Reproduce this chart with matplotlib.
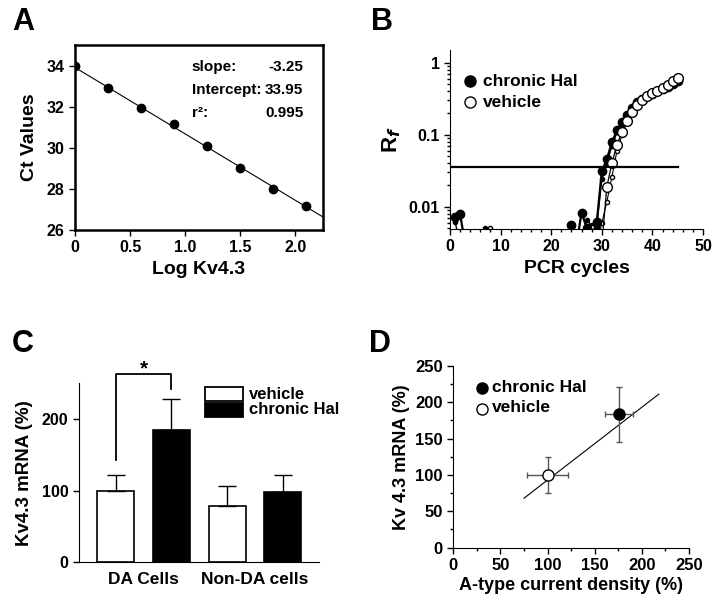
import numpy as np
import matplotlib
matplotlib.use("Agg")
import matplotlib.pyplot as plt
from matplotlib.patches import Rectangle
from matplotlib.ticker import MultipleLocator, NullFormatter

plt.rcParams['font.family'] = ['Liberation Sans', 'DejaVu Sans']
plt.rcParams['font.weight'] = 'bold'
plt.rcParams['axes.labelweight'] = 'bold'
plt.rcParams['mathtext.default'] = 'regular'

# A: standard curve
log_kv = [0, 0.3, 0.6, 0.9, 1.2, 1.5, 1.8, 2.1]
ct_vals = [34.0, 32.95, 31.95, 31.2, 30.1, 29.05, 28.0, 27.15]
slope, intercept, r2 = -3.25, 33.95, 0.995

# B: amplification curves (values below 0.005 are off-scale)
cycles = list(range(1, 46))
hal_big = [0.0072, 0.0079, 0.003, 0.003, 0.003, 0.003, 0.003, 0.003, 0.003, 0.003,
           0.003, 0.003, 0.003, 0.003, 0.003, 0.003, 0.003, 0.003, 0.003, 0.003,
           0.003, 0.003, 0.003, 0.0055, 0.003, 0.0083, 0.0051, 0.003, 0.0061, 0.031,
           0.046, 0.078, 0.115, 0.15, 0.19, 0.235, 0.285, 0.31, 0.34, 0.37,
           0.40, 0.43, 0.46, 0.50, 0.555]
hal_small = [0.0062, 0.003, 0.003, 0.003, 0.003, 0.003, 0.0050, 0.003, 0.003, 0.003,
             0.003, 0.003, 0.003, 0.003, 0.003, 0.003, 0.003, 0.003, 0.003, 0.003,
             0.003, 0.003, 0.003, 0.003, 0.003, 0.003, 0.0065, 0.0055, 0.0053, 0.024,
             0.040, 0.070, 0.108, 0.145, 0.185, 0.23, 0.275, 0.305, 0.335, 0.365,
             0.395, 0.425, 0.455, 0.495, 0.55]
veh_big = [0.003, 0.003, 0.003, 0.003, 0.003, 0.003, 0.003, 0.003, 0.003, 0.003,
           0.003, 0.003, 0.003, 0.003, 0.003, 0.003, 0.003, 0.003, 0.003, 0.003,
           0.003, 0.003, 0.003, 0.003, 0.003, 0.003, 0.003, 0.003, 0.003, 0.003,
           0.019, 0.040, 0.073, 0.108, 0.155, 0.205, 0.255, 0.305, 0.34, 0.375,
           0.41, 0.45, 0.49, 0.55, 0.62]
veh_small = [0.003, 0.003, 0.003, 0.003, 0.003, 0.003, 0.003, 0.0050, 0.003, 0.003,
             0.003, 0.003, 0.003, 0.003, 0.003, 0.003, 0.003, 0.003, 0.003, 0.003,
             0.003, 0.003, 0.003, 0.003, 0.003, 0.003, 0.003, 0.0052, 0.003, 0.0059,
             0.0118, 0.026, 0.060, 0.10, 0.15, 0.20, 0.25, 0.30, 0.335, 0.37,
             0.405, 0.445, 0.485, 0.545, 0.61]
threshold = 0.036

# C: bar chart
groups = ['DA Cells', 'Non-DA cells']
veh_mean = [100, 79]
veh_err = [22, 27]
hal_mean = [185, 98]
hal_err = [43, 24]

# D: correlation
d_x = [100, 176]
d_y = [100, 183]
d_xerr = [22, 15]
d_yerr = [25, 38]
fit_x = [75, 218]
fit_y = [68, 211]

fig = plt.figure(figsize=(7.2, 6.01), dpi=100)

def style_ticks(ax, size):
    ax.tick_params(axis='both', which='both', direction='out', width=1, labelsize=size)
    for lab in ax.get_xticklabels() + ax.get_yticklabels():
        lab.set_fontweight('bold')

# ---- A
axA = fig.add_axes([0.1042, 0.6173, 0.3444, 0.3078])
axA.plot(log_kv, ct_vals, 'o', color='black', ms=6)
xx = np.array([0, 2.25])
axA.plot(xx, intercept + slope * xx, color='black', lw=0.8)
axA.set_xlim(0, 2.25)
axA.set_ylim(26, 35.05)
axA.set_xticks([0, 0.5, 1.0, 1.5, 2.0])
axA.set_xticklabels(['0', '0.5', '1.0', '1.5', '2.0'])
axA.set_yticks([26, 28, 30, 32, 34])
for s in axA.spines.values():
    s.set_linewidth(1.8)
axA.tick_params(length=4)
style_ticks(axA, 11.5)
axA.set_xlabel('Log Kv4.3', fontsize=14, labelpad=4)
axA.set_ylabel('Ct Values', fontsize=14, labelpad=6)
axA.text(0.47, 0.86, 'slope:', transform=axA.transAxes, fontsize=11, fontweight='bold')
axA.text(0.47, 0.735, 'Intercept:', transform=axA.transAxes, fontsize=11, fontweight='bold')
axA.text(0.47, 0.61, 'r\u00b2:', transform=axA.transAxes, fontsize=11, fontweight='bold')
axA.text(0.92, 0.86, f'{slope:.2f}', transform=axA.transAxes, fontsize=11, fontweight='bold', ha='right')
axA.text(0.92, 0.735, f'{intercept:.2f}', transform=axA.transAxes, fontsize=11, fontweight='bold', ha='right')
axA.text(0.92, 0.61, f'{r2:.3f}', transform=axA.transAxes, fontsize=11, fontweight='bold', ha='right')

# ---- B
axB = fig.add_axes([0.625, 0.619, 0.3514, 0.2978])
axB.plot(cycles, hal_small, '-o', color='black', lw=1.0, ms=3)
axB.plot(cycles, veh_small, '-o', color='black', mfc='white', lw=0.8, ms=3)
axB.plot(cycles, hal_big, '-o', color='black', lw=1.6, ms=6)
axB.plot(cycles, veh_big, '-o', color='black', mfc='white', lw=0.9, ms=7)
axB.plot([0, 45], [threshold, threshold], color='black', lw=1.6)
axB.set_yscale('log')
axB.set_xlim(0, 50)
axB.set_ylim(0.0049, 1.5)
axB.set_yticks([0.01, 0.1, 1])
axB.set_yticklabels(['0.01', '0.1', '1'])
axB.yaxis.set_minor_formatter(NullFormatter())
axB.xaxis.set_major_locator(MultipleLocator(10))
axB.xaxis.set_minor_locator(MultipleLocator(2))
axB.spines['top'].set_visible(False)
axB.spines['right'].set_visible(False)
axB.tick_params(which='major', length=4)
axB.tick_params(which='minor', length=2.5)
style_ticks(axB, 11.5)
axB.set_xlabel('PCR cycles', fontsize=14, labelpad=4)
axB.set_ylabel('R$_\\mathit{f}$', fontsize=16, labelpad=4)
axB.plot([4], [0.55], 'o', color='black', ms=8)
axB.plot([4], [0.28], 'o', color='black', mfc='white', ms=8)
axB.text(6.5, 0.55, 'chronic Hal', fontsize=12.5, fontweight='bold', va='center')
axB.text(6.5, 0.28, 'vehicle', fontsize=12.5, fontweight='bold', va='center')

# ---- C
axC = fig.add_axes([0.1097, 0.0644, 0.3333, 0.2983])
pos_veh = [1, 3]
pos_hal = [2, 4]
axC.bar(pos_veh, veh_mean, width=0.667, color='white', edgecolor='black', lw=1.2,
        yerr=[[0, 0], veh_err], capsize=6.5, error_kw=dict(elinewidth=1, capthick=1))
axC.bar(pos_hal, hal_mean, width=0.667, color='black', edgecolor='black', lw=1.2,
        yerr=[[0, 0], hal_err], capsize=6.5, error_kw=dict(elinewidth=1, capthick=1, ecolor='black'))
axC.set_xlim(0.34, 4.65)
axC.set_ylim(0, 250)
axC.set_yticks([0, 100, 200])
axC.set_xticks([1.5, 3.5])
axC.set_xticklabels(groups)
axC.tick_params(axis='x', length=0, pad=7)
axC.tick_params(axis='y', length=4)
axC.spines['top'].set_visible(False)
axC.spines['right'].set_visible(False)
style_ticks(axC, 11.5)
for lab in axC.get_xticklabels():
    lab.set_fontsize(12.5)
axC.set_ylabel('Kv4.3 mRNA (%)', fontsize=13.5, labelpad=6)
axC.plot([1, 1, 2, 2], [143, 262, 262, 241], color='black', lw=1.3, clip_on=False)
axC.text(1.5, 270, '*', fontsize=15, fontweight='bold', ha='center', va='center')
axC.add_patch(Rectangle((2.6, 225), 0.68, 19, facecolor='white', edgecolor='black', lw=1.3, clip_on=False))
axC.add_patch(Rectangle((2.6, 203), 0.68, 19, facecolor='black', edgecolor='black', lw=1.3, clip_on=False))
axC.text(3.4, 234.5, 'vehicle', fontsize=12, fontweight='bold', va='center')
axC.text(3.4, 212.5, 'chronic Hal', fontsize=12, fontweight='bold', va='center')

# ---- D
axD = fig.add_axes([0.6296, 0.0887, 0.3274, 0.3028])
axD.plot(fit_x, fit_y, color='black', lw=0.8)
axD.errorbar(d_x[0], d_y[0], xerr=d_xerr[0], yerr=d_yerr[0], fmt='o', color='#555555',
             mfc='white', mec='black', ms=8, capsize=2.2, elinewidth=1)
axD.errorbar(d_x[1], d_y[1], xerr=d_xerr[1], yerr=d_yerr[1], fmt='o', color='#555555',
             mfc='black', mec='black', ms=8, capsize=2.2, elinewidth=1)
axD.set_xlim(0, 250)
axD.set_ylim(0, 250)
axD.xaxis.set_major_locator(MultipleLocator(50))
axD.xaxis.set_minor_locator(MultipleLocator(25))
axD.yaxis.set_major_locator(MultipleLocator(50))
axD.yaxis.set_minor_locator(MultipleLocator(25))
axD.spines['top'].set_visible(False)
axD.spines['right'].set_visible(False)
axD.tick_params(which='major', length=4)
axD.tick_params(which='minor', length=2.5)
style_ticks(axD, 12)
axD.set_xlabel('A-type current density (%)', fontsize=13, labelpad=3)
axD.set_ylabel('Kv 4.3 mRNA (%)', fontsize=13, labelpad=4)
axD.plot([30], [219], 'o', color='black', ms=8)
axD.plot([30], [191], 'o', color='black', mfc='white', ms=8)
axD.text(41, 220, 'chronic Hal', fontsize=12.5, fontweight='bold', va='center')
axD.text(41, 192, 'vehicle', fontsize=12.5, fontweight='bold', va='center')

# panel letters
for lbl, x, y in [('A', 0.017, 0.963), ('B', 0.515, 0.963), ('C', 0.017, 0.428), ('D', 0.512, 0.428)]:
    fig.text(x, y, lbl, fontsize=22, fontweight='bold', va='center')

fig.savefig('out.png', dpi=100, facecolor='white')
